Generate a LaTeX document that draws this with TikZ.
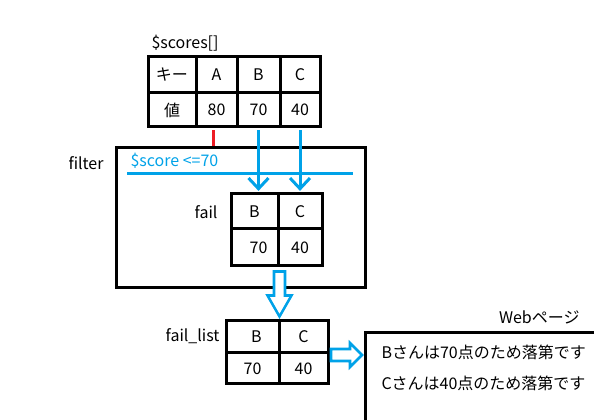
\documentclass[tikz,border=0pt]{standalone}
\usepackage{fontspec}
\setmainfont{Noto Sans CJK JP}
\usetikzlibrary{arrows.meta,calc}
\definecolor{flowblue}{RGB}{0,162,232}
\definecolor{hitred}{RGB}{237,28,36}

\tikzset{every picture/.style={line width=0.75pt}}
\tikzset{
  cell/.style={draw, line width=2.25pt, inner sep=0pt, font=\fontsize{12}{14}\selectfont},
  pagebox/.style={draw, line width=2.25pt, inner sep=0pt},
  txt/.style={inner sep=0.75pt, font=\fontsize{12}{14}\selectfont},
  flow/.style={draw=flowblue, line width=2.25pt, shorten <=1.2pt, shorten >=1.2pt, -{Straight Barb[length=8pt,width=15pt]}},
  hit/.style={draw=hitred, line width=2.25pt, shorten <=1.2pt},
  hollow/.style={draw=flowblue, line width=1.9pt, fill=white, line join=miter},
}

\begin{document}
\begin{tikzpicture}[x=0.75pt,y=0.75pt,yscale=-1,xscale=1]
\useasboundingbox (0,0) rectangle (594,420);

%Shape: Rectangle [filter]
\node[pagebox, minimum width=186.75pt, minimum height=105pt] (filterbox) at (240.5,218) {};
%Straight Lines [filter rule]
\draw[flowblue, line width=2.25pt] (127,174) -- (353,174);

%Shape: Table [$scores]
\node[cell, minimum width=36pt, minimum height=27pt] (keyHead) at (172,75) {キー};
\node[cell, minimum width=30.75pt, minimum height=27pt] (keyA) at (216.5,75) {A};
\node[cell, minimum width=32.25pt, minimum height=27pt] (keyB) at (258.5,75) {B};
\node[cell, minimum width=30pt, minimum height=27pt] (keyC) at (300,75) {C};
\node[cell, minimum width=36pt, minimum height=25.5pt] (valHead) at (172,110) {値};
\node[cell, minimum width=30.75pt, minimum height=25.5pt] (valA) at (216.5,110) {80};
\node[cell, minimum width=32.25pt, minimum height=25.5pt] (valB) at (258.5,110) {70};
\node[cell, minimum width=30pt, minimum height=25.5pt] (valC) at (300,110) {40};

%Shape: Table [fail]
\node[cell, minimum width=35.25pt, minimum height=26.25pt] (failB) at (254.5,211.5) {B};
\node[cell, minimum width=33pt, minimum height=26.25pt] (failC) at (300,211.5) {C};
\node[cell, minimum width=35.25pt, minimum height=27.75pt] (failB2) at (254.5,247.5) {\hspace{6pt}70};
\node[cell, minimum width=33pt, minimum height=27.75pt] (failC2) at (300,247.5) {40};

%Shape: Table [fail_list]
\node[cell, minimum width=39.75pt, minimum height=24pt] (listB) at (252.5,337) {\hspace{6pt}B};
\node[cell, minimum width=36.75pt, minimum height=24pt] (listC) at (303.5,337) {C};
\node[cell, minimum width=39.75pt, minimum height=23.25pt] (listB2) at (252.5,368.5) {70};
\node[cell, minimum width=36.75pt, minimum height=23.25pt] (listC2) at (303.5,368.5) {40};

%Shape: Rectangle [Web page]
\node[pagebox, anchor=north west, minimum width=225pt, minimum height=90pt] (webpage) at (364,331) {};

%Straight Lines [passes]
\draw[hit] ([xshift=-2.5pt]valA.south) -- ([xshift=-2.5pt]valA.south |- filterbox.north);
\draw[flow] (valB.south) -- (valB.south |- failB.north);
\draw[flow] (valC.south) -- (valC.south |- failC.north);

%Shape: Hollow Arrow [filter -> fail_list]
\coordinate (downtip) at ($(listB.north east)+(-1,-3)$);
\draw[hollow] (downtip) -- ++(-12,-21) -- ++(6.5,0) -- ++(0,-24) -- ++(11,0) -- ++(0,24) -- ++(6.5,0) -- cycle;
%Shape: Hollow Arrow [fail_list -> Web page]
\coordinate (righttip) at ($(webpage.north west)+(-2,24)$);
\draw[hollow] (righttip) -- ++(-12,-12) -- ++(0,6) -- ++(-19,0) -- ++(0,12) -- ++(19,0) -- ++(0,6) -- cycle;

% Text Node
\node[txt, anchor=west] (scoresName) at (150,43) {\$scores[]};
% Text Node
\node[txt, anchor=west] (filterName) at (67,163) {filter};
% Text Node
\node[txt, anchor=west, text=flowblue] (filterRule) at (129,161) {\$score <=70};
% Text Node
\node[txt, anchor=east] (failName) at (219,212) {fail};
% Text Node
\node[txt, anchor=east] (listName) at (221,336) {fail\_list};
% Text Node
\node[txt, anchor=east] (webName) at (581,317) {Webページ};
% Text Node
\node[txt, anchor=west] (lineB) at (380,352) {Bさんは70点のため落第です};
% Text Node
\node[txt, anchor=west] (lineC) at (380,383) {Cさんは40点のため落第です};

\end{tikzpicture}
\end{document}
